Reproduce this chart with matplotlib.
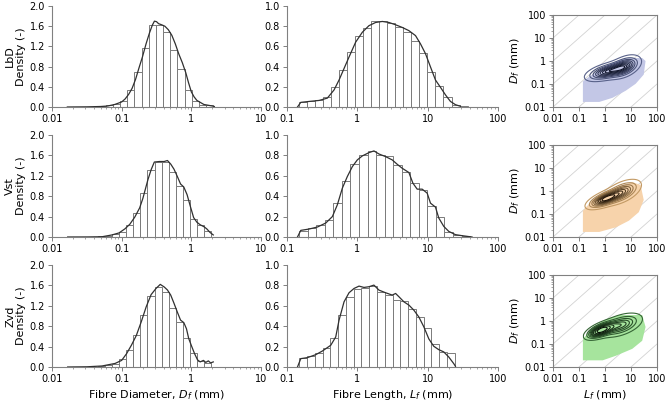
import numpy as np
import matplotlib
matplotlib.use("Agg")
import matplotlib.pyplot as plt
from matplotlib.ticker import FixedLocator, LogLocator, NullFormatter, FixedFormatter
from matplotlib.patches import Polygon

# ---------------- data ----------------
row_names = ["LbD", "Vst", "Zvd"]

# Diameter histograms (log10 first edge, bin width in decades, heights)
lbd_d_start, lbd_d_width = -1.848, 0.103
lbd_d_heights = [0.001, 0.002, 0.003, 0.005, 0.008, 0.015, 0.03, 0.05, 0.12, 0.34, 0.69,
                 1.16, 1.63, 1.63, 1.49, 1.12, 0.76, 0.34, 0.12, 0.04, 0.03]
vst_d_start, vst_d_width = -1.854, 0.102
vst_d_heights = [0.001, 0.002, 0.003, 0.005, 0.008, 0.015, 0.025, 0.05, 0.10, 0.24, 0.48,
                 0.87, 1.32, 1.48, 1.48, 1.28, 1.00, 0.73, 0.36, 0.24, 0.12]
zvd_d_start, zvd_d_width = -1.854, 0.102
zvd_d_heights = [0.001, 0.002, 0.003, 0.005, 0.008, 0.015, 0.03, 0.06, 0.15, 0.34, 0.62,
                 1.02, 1.40, 1.57, 1.48, 1.16, 0.89, 0.57, 0.28, 0.11, 0.08]

# Length histograms
lbd_l_start, lbd_l_width = -0.827, 0.114
lbd_l_heights = [0.05, 0.055, 0.07, 0.10, 0.20, 0.37, 0.54, 0.70, 0.78, 0.85, 0.85,
                 0.83, 0.79, 0.74, 0.65, 0.53, 0.35, 0.21, 0.095, 0.015, 0.005]
vst_l_start, vst_l_width = -0.827, 0.1215
vst_l_heights = [0.06, 0.085, 0.12, 0.17, 0.33, 0.55, 0.72, 0.80, 0.84, 0.80, 0.79,
                 0.71, 0.64, 0.53, 0.46, 0.30, 0.20, 0.05, 0.015, 0.008]
zvd_l_start, zvd_l_width = -0.827, 0.1106
zvd_l_heights = [0.09, 0.11, 0.14, 0.19, 0.28, 0.51, 0.69, 0.76, 0.77, 0.79, 0.74,
                 0.71, 0.66, 0.65, 0.57, 0.49, 0.38, 0.23, 0.15, 0.14]

# KDE curves: log10(x) and density
lbd_d_kde_lx = [-1.78, -1.5, -1.3, -1.2, -1.1, -1.0, -0.95, -0.9, -0.85, -0.8, -0.75, -0.7,
                -0.65, -0.6, -0.56, -0.53, -0.5, -0.47, -0.43, -0.38, -0.33, -0.28, -0.23,
                -0.18, -0.13, -0.08, -0.04, 0.0, 0.04, 0.08, 0.13, 0.18, 0.22, 0.26, 0.3, 0.33]
lbd_d_kde_y = [0.0, 0.003, 0.01, 0.02, 0.05, 0.1, 0.16, 0.25, 0.37, 0.55, 0.78, 1.0,
               1.25, 1.47, 1.62, 1.70, 1.69, 1.65, 1.63, 1.6, 1.53, 1.42, 1.25,
               1.05, 0.88, 0.68, 0.48, 0.3, 0.2, 0.13, 0.09, 0.05, 0.04, 0.03, 0.02, 0.01]
vst_d_kde_lx = [-1.775, -1.5, -1.282, -1.141, -1.038, -0.953, -0.883, -0.812, -0.742, -0.695,
                -0.624, -0.577, -0.531, -0.46, -0.39, -0.343, -0.296, -0.249, -0.202, -0.155,
                -0.108, -0.061, -0.014, 0.033, 0.08, 0.127, 0.183, 0.221, 0.268, 0.315]
vst_d_kde_y = [0.0, 0.001, 0.005, 0.04, 0.08, 0.16, 0.25, 0.39, 0.57, 0.76,
               1.12, 1.32, 1.47, 1.48, 1.48, 1.5, 1.43, 1.33, 1.19, 1.04,
               0.98, 0.83, 0.6, 0.38, 0.29, 0.24, 0.2, 0.16, 0.09, 0.04]
zvd_d_kde_lx = [-1.775, -1.5, -1.282, -1.094, -1.0, -0.93, -0.859, -0.789, -0.718, -0.648,
                -0.577, -0.507, -0.446, -0.39, -0.343, -0.296, -0.249, -0.202, -0.155, -0.108,
                -0.07, -0.038, 0.009, 0.047, 0.089, 0.127, 0.174, 0.207, 0.244, 0.277, 0.315]
zvd_d_kde_y = [0.0, 0.004, 0.02, 0.07, 0.13, 0.26, 0.43, 0.62, 0.89, 1.18,
               1.42, 1.54, 1.62, 1.57, 1.51, 1.41, 1.25, 1.08, 0.92, 0.87,
               0.75, 0.56, 0.39, 0.26, 0.14, 0.10, 0.13, 0.09, 0.12, 0.08, 0.10]

lbd_l_kde_lx = [-0.851, -0.804, -0.686, -0.544, -0.426, -0.331, -0.26, -0.189, -0.118, -0.024,
                0.071, 0.165, 0.26, 0.355, 0.449, 0.544, 0.638, 0.733, 0.827, 0.898,
                0.969, 1.04, 1.111, 1.182, 1.253, 1.324, 1.395, 1.466]
lbd_l_kde_y = [0.0, 0.046, 0.055, 0.065, 0.088, 0.169, 0.267, 0.381, 0.495, 0.642,
               0.74, 0.805, 0.837, 0.847, 0.837, 0.814, 0.788, 0.756, 0.707, 0.625,
               0.528, 0.397, 0.267, 0.195, 0.12, 0.055, 0.023, 0.007]
vst_l_kde_lx = [-0.851, -0.804, -0.686, -0.567, -0.449, -0.355, -0.284, -0.213, -0.142, -0.071,
                0.0, 0.071, 0.165, 0.236, 0.307, 0.402, 0.496, 0.567, 0.638, 0.733,
                0.79, 0.851, 0.922, 0.993, 1.04, 1.111, 1.158, 1.229, 1.3, 1.395, 1.489, 1.631]
vst_l_kde_y = [0.0, 0.065, 0.078, 0.098, 0.137, 0.2, 0.316, 0.479, 0.593, 0.69,
               0.756, 0.795, 0.827, 0.844, 0.814, 0.788, 0.756, 0.713, 0.674, 0.632,
               0.528, 0.469, 0.469, 0.43, 0.332, 0.293, 0.186, 0.104, 0.055, 0.023, 0.013, 0.0]
zvd_l_kde_lx = [-0.851, -0.804, -0.709, -0.591, -0.496, -0.378, -0.307, -0.26, -0.189, -0.118,
                -0.047, 0.024, 0.095, 0.165, 0.236, 0.307, 0.402, 0.496, 0.544, 0.591,
                0.662, 0.733, 0.804, 0.875, 0.946, 1.017, 1.087, 1.158, 1.229, 1.3, 1.371, 1.395]
zvd_l_kde_y = [0.0, 0.082, 0.092, 0.121, 0.157, 0.213, 0.295, 0.459, 0.639, 0.728,
               0.77, 0.793, 0.78, 0.787, 0.803, 0.754, 0.728, 0.705, 0.721, 0.689,
               0.639, 0.607, 0.557, 0.49, 0.393, 0.275, 0.203, 0.17, 0.148, 0.098, 0.033, 0.007]

# Joint distributions: outline of the scattered fibres (log10 L, log10 D)
lbd_fill_lx = [-0.85, -0.22, 0.29, 0.80, 1.18, 1.49, 1.56, 1.43, 1.05, 0.67, 0.29, -0.22, -0.66, -0.85]
lbd_fill_ly = [-1.78, -1.78, -1.60, -1.29, -0.99, -0.59, 0.00, 0.13, 0.13, 0.09, -0.07, -0.39, -0.72, -0.89]
vst_fill_lx = [-0.85, -0.22, 0.42, 0.92, 1.30, 1.49, 1.37, 1.05, 0.54, 0.04, -0.47, -0.85]
vst_fill_ly = [-1.78, -1.78, -1.58, -1.29, -0.92, -0.39, 0.26, 0.39, 0.20, 0.00, -0.39, -0.86]
zvd_fill_lx = [-0.85, -0.09, 0.42, 1.05, 1.43, 1.56, 1.43, 1.05, 0.54, 0.04, -0.47, -0.85]
zvd_fill_ly = [-1.71, -1.71, -1.51, -1.21, -0.86, -0.26, 0.26, 0.26, 0.26, 0.07, -0.26, -0.79]

# Density components (mean logL, mean logD, sd logL, sd logD, correlation, weight)
lbd_comp_a = [0.10, -0.45, 0.40, 0.20, 0.55, 0.55]
lbd_comp_b = [0.75, -0.25, 0.30, 0.24, 0.45, 0.45]
vst_comp_a = [0.00, -0.35, 0.33, 0.20, 0.65, 0.50]
vst_comp_b = [0.65, -0.05, 0.35, 0.26, 0.55, 0.50]
zvd_comp_a = [-0.15, -0.40, 0.28, 0.18, 0.60, 0.50]
zvd_comp_b = [0.60, -0.18, 0.40, 0.25, 0.50, 0.50]
# probability mass enclosed by each contour line
contour_mass = [0.95, 0.844, 0.739, 0.633, 0.528, 0.422, 0.317, 0.211, 0.106]
min_log_length = -0.83

diam_ticks = [0.01, 0.1, 1, 10]
diam_ticklabels = ["0.01", "0.1", "1", "10"]
len_ticks = [0.1, 1, 10, 100]
len_ticklabels = ["0.1", "1", "10", "100"]
dens_d_ticks = [0.0, 0.4, 0.8, 1.2, 1.6, 2.0]
dens_l_ticks = [0.0, 0.2, 0.4, 0.6, 0.8, 1.0]
joint_ticks = [0.01, 0.1, 1, 10, 100]
joint_ticklabels = ["0.01", "0.1", "1", "10", "100"]

fill_colors = ["#c3c7e6", "#f7d3ab", "#a6e49d"]
line_cmaps = [("#59628a", "#10152a"), ("#c39a64", "#1e1206"), ("#356535", "#050d05")]

# ---------------- styling ----------------
plt.rcParams["font.family"] = ["DejaVu Sans"]
GRAY = "#808080"
TICK_FS = 7

fig = plt.figure(figsize=(6.68, 4.01), dpi=100)
W, H = 668.0, 401.0

def ax_at(x0, x1, ytop, ybot):
    return fig.add_axes([x0 / W, 1 - ybot / H, (x1 - x0) / W, (ybot - ytop) / H])

def style_axes(ax, box=False):
    for s in ["left", "bottom", "top", "right"]:
        ax.spines[s].set_color(GRAY)
        ax.spines[s].set_linewidth(0.8)
    if not box:
        ax.spines["top"].set_visible(False)
        ax.spines["right"].set_visible(False)
    ax.tick_params(which="major", length=3, width=0.7, color=GRAY, labelsize=TICK_FS, pad=2)
    ax.tick_params(which="minor", length=1.6, width=0.5, color=GRAY)

def draw_hist(ax, start, width, heights, kx, ky, xlim, ylim, ticks, ticklabels, yticks):
    n = len(heights)
    edges = 10 ** (start + width * np.arange(n + 1))
    ax.bar(edges[:-1], heights, width=np.diff(edges), align="edge", facecolor="white",
           edgecolor="#7a7a7a", linewidth=0.7, zorder=2)
    ax.plot(10 ** np.array(kx), ky, color="#303030", linewidth=0.9, zorder=3)
    ax.set_xscale("log")
    ax.set_xlim(*xlim)
    ax.set_ylim(*ylim)
    ax.xaxis.set_major_locator(FixedLocator(ticks))
    ax.xaxis.set_major_formatter(FixedFormatter(ticklabels))
    ax.xaxis.set_minor_locator(LogLocator(base=10, subs=np.arange(2, 10)))
    ax.xaxis.set_minor_formatter(NullFormatter())
    ax.set_yticks(yticks)
    ax.set_yticklabels([f"{v:.1f}" for v in yticks])
    style_axes(ax)

def mixture(LX, LY, comps):
    Z = np.zeros_like(LX)
    for mx, my, sx, sy, r, w in comps:
        dx = (LX - mx) / sx
        dy = (LY - my) / sy
        q = (dx ** 2 - 2 * r * dx * dy + dy ** 2) / (1 - r ** 2)
        Z += w * np.exp(-0.5 * q) / (2 * np.pi * sx * sy * np.sqrt(1 - r ** 2))
    Z[LX < min_log_length] = 0.0
    return Z

def mass_levels(Z, masses):
    z = np.sort(Z.ravel())[::-1]
    c = np.cumsum(z)
    c /= c[-1]
    lv = [z[np.searchsorted(c, m)] for m in masses]
    return np.sort(np.array(lv))

d_data = [(lbd_d_start, lbd_d_width, lbd_d_heights, lbd_d_kde_lx, lbd_d_kde_y),
          (vst_d_start, vst_d_width, vst_d_heights, vst_d_kde_lx, vst_d_kde_y),
          (zvd_d_start, zvd_d_width, zvd_d_heights, zvd_d_kde_lx, zvd_d_kde_y)]
l_data = [(lbd_l_start, lbd_l_width, lbd_l_heights, lbd_l_kde_lx, lbd_l_kde_y),
          (vst_l_start, vst_l_width, vst_l_heights, vst_l_kde_lx, vst_l_kde_y),
          (zvd_l_start, zvd_l_width, zvd_l_heights, zvd_l_kde_lx, zvd_l_kde_y)]
fills = [(lbd_fill_lx, lbd_fill_ly), (vst_fill_lx, vst_fill_ly), (zvd_fill_lx, zvd_fill_ly)]
comps = [(lbd_comp_a, lbd_comp_b), (vst_comp_a, vst_comp_b), (zvd_comp_a, zvd_comp_b)]

row_tops = [6, 135, 265]
row_bots = [107, 237, 367]
joint_tops = [15, 145, 275]

gl = np.linspace(-2, 2, 400)
LX, LY = np.meshgrid(gl, gl)

for i, name in enumerate(row_names):
    # diameter histogram
    ax = ax_at(52, 261, row_tops[i], row_bots[i])
    s, w, h, kx, ky = d_data[i]
    draw_hist(ax, s, w, h, kx, ky, (0.01, 10), (0, 2.0), diam_ticks, diam_ticklabels, dens_d_ticks)
    ax.set_ylabel("Density (-)", fontsize=8, labelpad=3)
    fig.text(10 / W, 1 - (row_tops[i] + row_bots[i]) / 2 / H, name, rotation=90,
             fontsize=8, ha="center", va="center")
    if i == 2:
        ax.set_xlabel("Fibre Diameter, $D_f$ (mm)", fontsize=8, labelpad=3)

    # length histogram
    ax = ax_at(287, 498, row_tops[i], row_bots[i])
    s, w, h, kx, ky = l_data[i]
    draw_hist(ax, s, w, h, kx, ky, (0.1, 100), (0, 1.0), len_ticks, len_ticklabels, dens_l_ticks)
    if i == 2:
        ax.set_xlabel("Fibre Length, $L_f$ (mm)", fontsize=8, labelpad=3)

    # joint distribution
    ax = ax_at(553, 657, joint_tops[i], row_bots[i])
    ax.set_xscale("log")
    ax.set_yscale("log")
    ax.set_xlim(0.01, 100)
    ax.set_ylim(0.01, 100)
    for k in range(-3, 4):
        ax.plot([1e-2, 1e2], [1e-2 * 10.0 ** k, 1e2 * 10.0 ** k], color="#d2d2d2",
                linewidth=0.6, zorder=1)
    flx, fly = fills[i]
    poly = Polygon(np.column_stack([10 ** np.array(flx), 10 ** np.array(fly)]), closed=True,
                   facecolor=fill_colors[i], edgecolor="none", zorder=2)
    ax.add_patch(poly)
    Z = mixture(LX, LY, comps[i])
    levels = mass_levels(Z, contour_mass)
    c0, c1 = line_cmaps[i]
    cmap = matplotlib.colors.LinearSegmentedColormap.from_list("c", [c0, c1])
    ax.contour(10 ** LX, 10 ** LY, Z, levels=levels, cmap=cmap, linewidths=0.8, zorder=3)
    ax.xaxis.set_major_locator(FixedLocator(joint_ticks))
    ax.xaxis.set_major_formatter(FixedFormatter(joint_ticklabels))
    ax.yaxis.set_major_locator(FixedLocator(joint_ticks))
    ax.yaxis.set_major_formatter(FixedFormatter(joint_ticklabels))
    for a in (ax.xaxis, ax.yaxis):
        a.set_minor_locator(LogLocator(base=10, subs=np.arange(2, 10)))
        a.set_minor_formatter(NullFormatter())
    style_axes(ax, box=True)
    ax.set_ylabel("$D_f$ (mm)", fontsize=8, labelpad=2)
    if i == 2:
        ax.set_xlabel("$L_f$ (mm)", fontsize=8, labelpad=3)

fig.savefig("out.png", dpi=100)
